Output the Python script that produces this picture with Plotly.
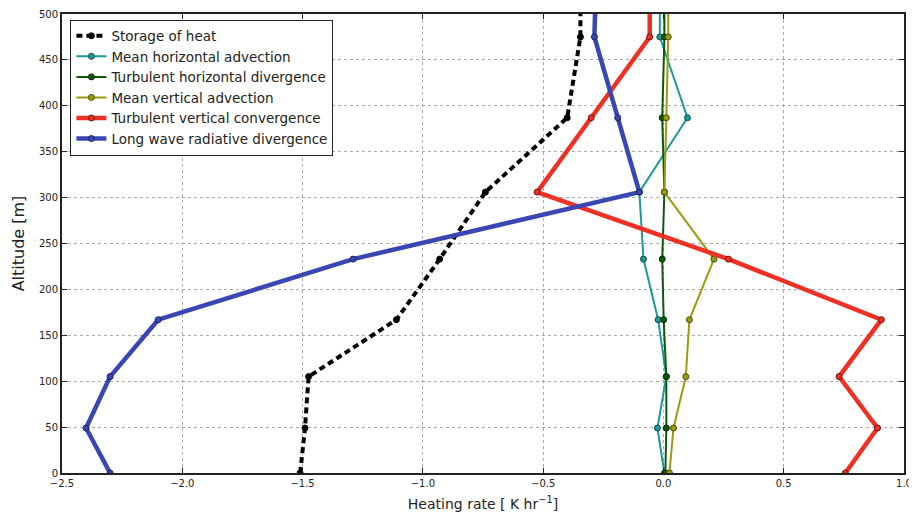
import plotly.graph_objects as go

altitude = [0, 49, 105, 167, 233, 306, 387, 475, 540]

storage_of_heat = [-1.51, -1.49, -1.475, -1.11, -0.93, -0.74, -0.40, -0.345, -0.345]
mean_horizontal_advection = [0.004, -0.025, 0.012, -0.022, -0.083, -0.10, 0.10, -0.015, -0.015]
turbulent_horizontal_divergence = [0.008, 0.012, 0.012, 0.001, -0.005, 0.004, -0.005, 0.004, 0.004]
mean_vertical_advection = [0.025, 0.042, 0.093, 0.108, 0.21, 0.004, 0.012, 0.02, 0.02]
turbulent_vertical_convergence = [0.756, 0.89, 0.73, 0.906, 0.27, -0.525, -0.30, -0.057, -0.057]
long_wave_radiative_divergence = [-2.30, -2.40, -2.30, -2.10, -1.29, -0.10, -0.19, -0.287, -0.28]

series = [
    ("Storage of heat", storage_of_heat, "#000000", "#000000", 4, "6px,4px"),
    ("Mean horizontal advection", mean_horizontal_advection, "#1a9a9a", "#0d4d4d", 2, "solid"),
    ("Turbulent horizontal divergence", turbulent_horizontal_divergence, "#0a5a0a", "#032b03", 2, "solid"),
    ("Mean vertical advection", mean_vertical_advection, "#9a9a10", "#4d4d05", 2, "solid"),
    ("Turbulent vertical convergence", turbulent_vertical_convergence, "#ee3124", "#6a1510", 4.5, "solid"),
    ("Long wave radiative divergence", long_wave_radiative_divergence, "#3a46b4", "#1d235a", 4.5, "solid"),
]

fig = go.Figure()
for name, vals, color, edge, width, dash in series:
    fig.add_trace(go.Scatter(
        x=vals, y=altitude, name=name, mode="lines+markers",
        line=dict(color=color, width=width, dash=dash),
        marker=dict(size=6, color=color, line=dict(color=edge, width=1)),
    ))

axis_common = dict(
    showline=True, linecolor="#222222", linewidth=2, mirror="ticks",
    ticks="inside", ticklen=5, tickcolor="#222222", tickwidth=1,
    showgrid=True, gridcolor="#aaaaaa", griddash="dot", gridwidth=1,
    zeroline=False, automargin=False, ticklabeloverflow="allow",
    tickfont=dict(family="DejaVu Sans", size=10, color="#222222"),
)

fig.update_xaxes(
    range=[-2.5, 1.0], tickvals=[-2.5, -2.0, -1.5, -1.0, -0.5, 0.0, 0.5, 1.0],
    ticktext=["\u22122.5", "\u22122.0", "\u22121.5", "\u22121.0", "\u22120.5", "0.0", "0.5", "1.0"],
    title=dict(text="Heating rate [ K hr<sup>\u22121</sup>]",
               font=dict(family="DejaVu Sans", size=14, color="#222222"), standoff=14),
    **axis_common,
)
fig.update_yaxes(
    range=[0, 500], tickvals=list(range(0, 501, 50)),
    title=dict(text="Altitude [m]", font=dict(family="DejaVu Sans", size=16, color="#222222"), standoff=10),
    **axis_common,
)

fig.update_layout(
    width=909, height=504,
    margin=dict(l=54, r=13, t=6, b=39, autoexpand=False),
    plot_bgcolor="white", paper_bgcolor="white",
    font=dict(family="DejaVu Sans", color="#222222"),
    legend=dict(
        x=0.01, y=0.988, xanchor="left", yanchor="top",
        bgcolor="white", bordercolor="#222222", borderwidth=1,
        font=dict(family="DejaVu Sans", size=13.5, color="#222222"),
        tracegroupgap=0, itemwidth=30,
    ),
    showlegend=True,
)

fig.write_html("out.html")
